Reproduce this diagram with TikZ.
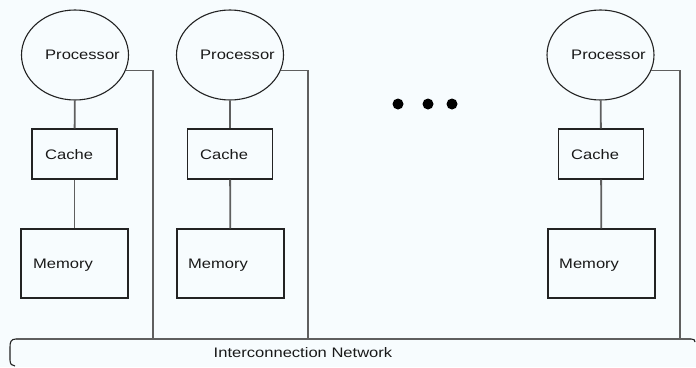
\documentclass[tikz,border=0pt]{standalone}
\usepackage{fontspec}
\setmainfont{Liberation Sans}[FakeStretch=1.2]
\usetikzlibrary{shapes.geometric}
\definecolor{bgc}{RGB}{247,252,254}
\definecolor{edgec}{RGB}{35,35,35}
\definecolor{wirec}{RGB}{95,95,95}
\tikzset{
  proc/.style={ellipse, draw=edgec, line width=1.1pt, minimum width=107pt, minimum height=90pt, inner sep=0pt},
  cachebox/.style={rectangle, draw=edgec, line width=1.1pt, minimum width=85pt, minimum height=50pt, inner sep=0pt},
  membox/.style={rectangle, draw=edgec, line width=1.1pt, minimum width=107pt, minimum height=69pt, inner sep=0pt},
  lbl/.style={anchor=west, inner sep=0pt, font=\fontsize{13.8}{16}\selectfont, text=black!90},
  wire/.style={draw=wirec, line width=1.8pt},
  dotc/.style={circle, fill=black, minimum size=11pt, inner sep=0pt},
}
\begin{document}
\begin{tikzpicture}[x=1pt, y=-1pt]
\fill[bgc] (0,0) rectangle (696,367);
\useasboundingbox (0,0) rectangle (696,367);

% group 1
\node[proc] (p1) at (75,55) {};
\node[lbl] (p1t) at (45,55) {Processor};
\node[cachebox] (c1) at (74.5,154) {};
\node[lbl] (c1t) at (45,155) {Cache};
\node[membox] (m1) at (74.5,263.5) {};
\node[lbl] (m1t) at (33,265) {Memory};

% group 2
\node[proc] (p2) at (230,55) {};
\node[lbl] (p2t) at (200,55) {Processor};
\node[cachebox] (c2) at (230,154) {};
\node[lbl] (c2t) at (200,155) {Cache};
\node[membox] (m2) at (230.5,263.5) {};
\node[lbl] (m2t) at (188,265) {Memory};

% group 3
\node[proc] (p3) at (600.5,55) {};
\node[lbl] (p3t) at (571,55) {Processor};
\node[cachebox] (c3) at (601,154) {};
\node[lbl] (c3t) at (571,155) {Cache};
\node[membox] (m3) at (601.5,263.5) {};
\node[lbl] (m3t) at (559,265) {Memory};

% dots
\node[dotc] (d1) at (398,104) {};
\node[dotc] (d2) at (428,104) {};
\node[dotc] (d3) at (452,104) {};

% network bar
\node[rectangle, minimum width=680pt, minimum height=28pt, inner sep=0pt] (net) at (350,353) {};
\node[lbl, anchor=center] (nett) at (303,352.5) {Interconnection Network};
\draw[edgec, line width=1.1pt] (16,339) .. controls (11,339) and (10,342) .. (10,347) -- (10,360) .. controls (10,364) and (12,366) .. (15,366);
\draw[wirec, line width=1.8pt] (16,339) -- (691,339);
\draw[edgec, line width=1.1pt] (691,339) .. controls (694,339) and (695,340) .. (695,342);

% vertical links
\draw[wire] (p1) -- (c1);
\draw[wire] (c1) -- (m1);
\draw[wire] (p2) -- (c2);
\draw[wire] (c2) -- (m2);
\draw[wire] (p3) -- (c3);
\draw[wire] (c3) -- (m3);

% links to network
\coordinate (n1) at (153,339);
\coordinate (n2) at (308,339);
\coordinate (n3) at (680,339);
\draw[wire] (p1.343) -| (n1);
\draw[wire] (p2.343) -| (n2);
\draw[wire] (p3.343) -| (n3);
\end{tikzpicture}
\end{document}
